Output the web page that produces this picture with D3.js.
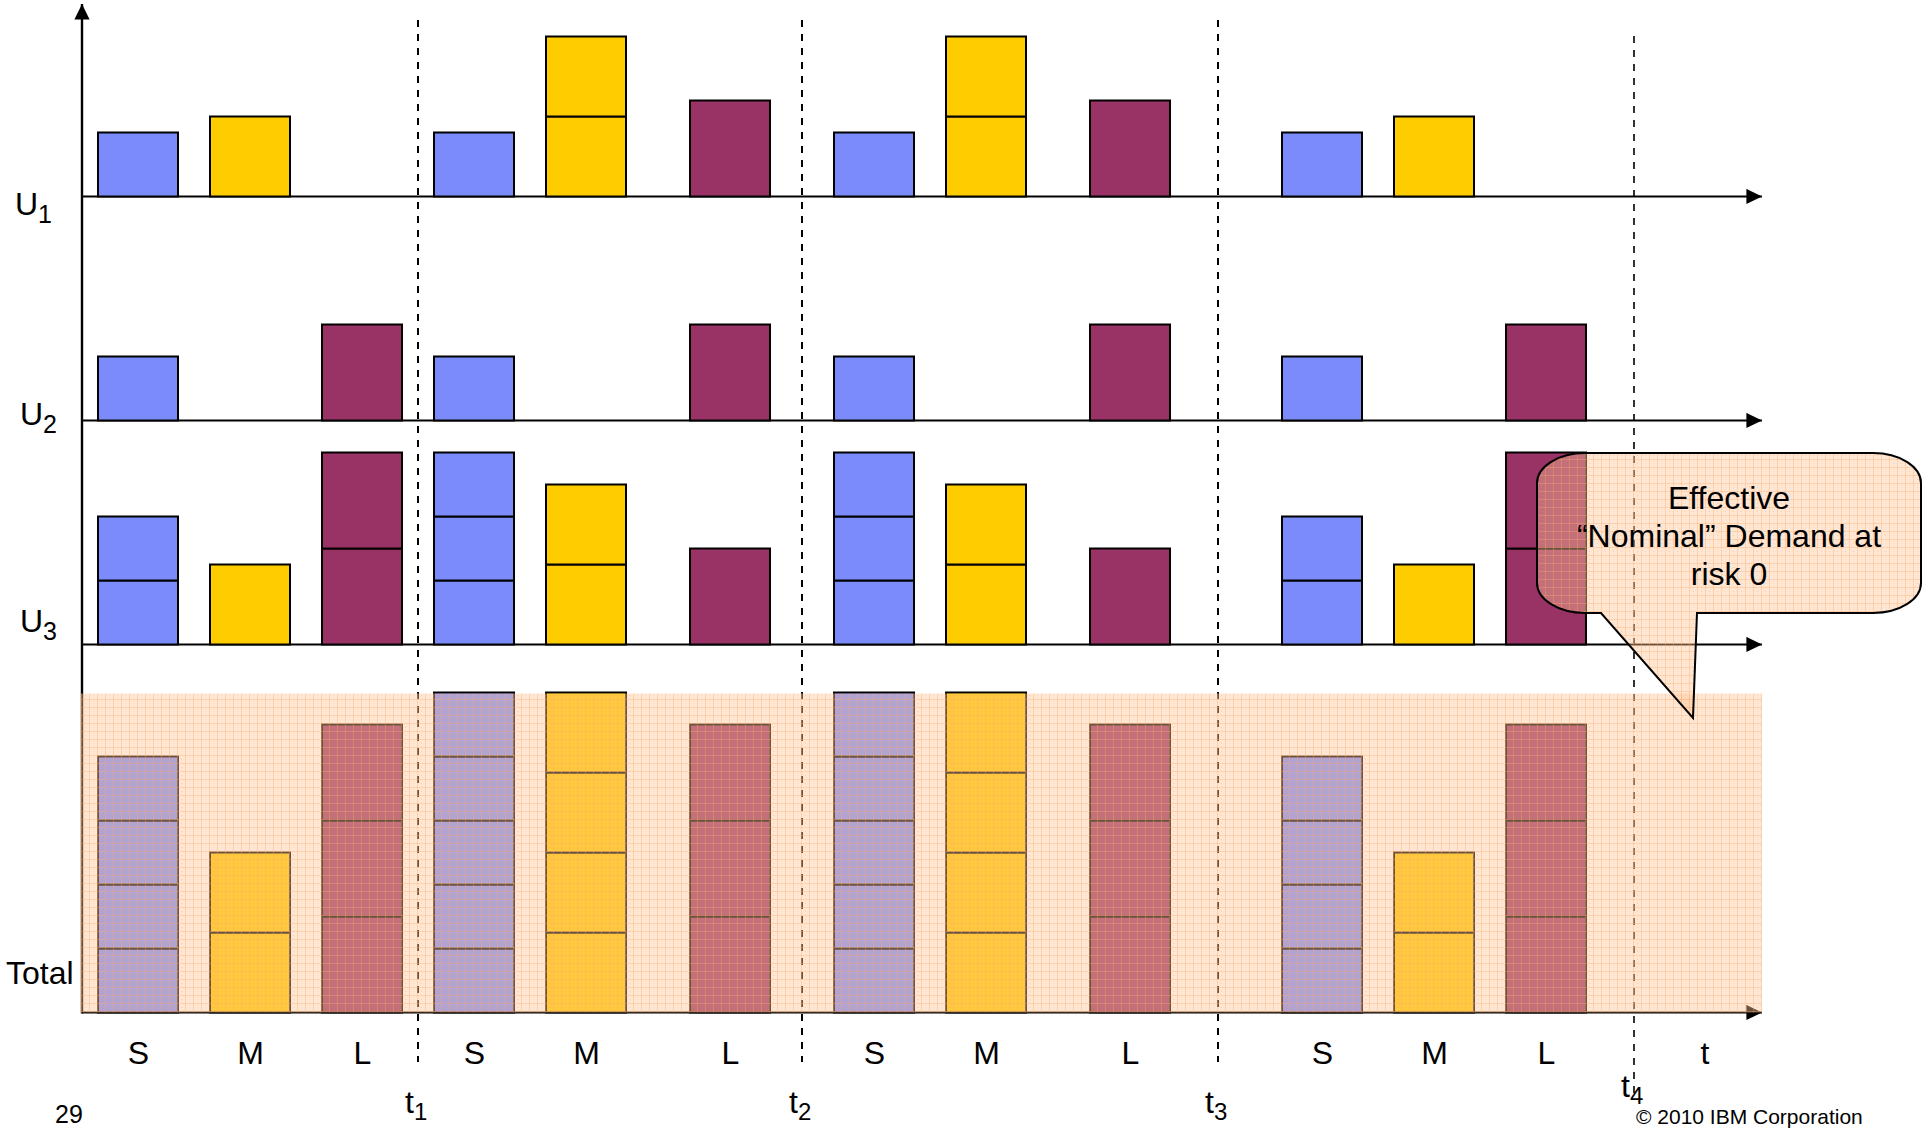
<!DOCTYPE html>
<html>
<head>
<meta charset="utf-8">
<script src="https://cdn.jsdelivr.net/npm/d3@7"></script>
<style>
  html, body { margin: 0; padding: 0; background: #ffffff; }
  svg { display: block; }
  text { font-family: "Liberation Sans", Arial, Helvetica, sans-serif; fill: #000; }
</style>
</head>
<body>
<svg id="chart" width="1931" height="1130"></svg>
<script>
// ---- data -------------------------------------------------------------
// Request classes and the demand that one request of each class adds
const classes = ["S", "M", "L"];
const classDemand = [4, 5, 6];

// Epoch boundaries t1..t4 on the time axis
const epochSubs = ["1", "2", "3", "4"];
const epochTimes = [21, 45, 71, 97];

// Time at which the S, M and L requests are placed within each epoch
const requestTimes = [
  [1, 8, 15],
  [22, 29, 38],
  [47, 54, 63],
  [75, 82, 89]
];

// Requests per epoch (one row per epoch) and class (S, M, L) for each user
const u1Requests = [[1, 1, 0], [1, 2, 1], [1, 2, 1], [1, 1, 0]];
const u2Requests = [[1, 0, 1], [1, 0, 1], [1, 0, 1], [1, 0, 1]];
const u3Requests = [[2, 1, 2], [3, 2, 1], [3, 2, 1], [2, 1, 2]];

const calloutLines = ["Effective", "\u201CNominal\u201D Demand at", "risk 0"];

// ---- layout & style ---------------------------------------------------
const FONT = 32;
const classColors = ["#7b8bfa", "#ffcc00", "#993366"];
const requestSpan = 5;          // time units covered by one request bar

const svg = d3.select("#chart");

// time axis and demand axis (one shared demand unit for every row)
const x = d3.scaleLinear().domain([0, 105]).range([82, 1762]);
const y = d3.scaleLinear().domain([0, 63]).range([1012.5, 4.5]);

// per-user rows: baseline level on the demand axis and label placement
const rows = [
  { sub: "1", counts: u1Requests, base: 51, lx: 15, ly: 18.5 },
  { sub: "2", counts: u2Requests, base: 37, lx: 20, ly: 4.5 },
  { sub: "3", counts: u3Requests, base: 23, lx: 20, ly: -12.5 }
];
const totalCounts = u1Requests.map((ep, i) =>
  ep.map((_, c) => u1Requests[i][c] + u2Requests[i][c] + u3Requests[i][c]));

function blocksFor(counts, base) {
  const out = [];
  counts.forEach((ep, p) => ep.forEach((n, c) => {
    for (let k = 0; k < n; k++) {
      out.push({
        t: requestTimes[p][c],
        lo: base + k * classDemand[c],
        hi: base + (k + 1) * classDemand[c],
        c
      });
    }
  }));
  return out;
}

// ---- defs: arrowheads and the translucent mesh fill ---------------------
const defs = svg.append("defs");
defs.append("marker")
  .attr("id", "arrow")
  .attr("viewBox", "0 0 16 16")
  .attr("refX", 15.6).attr("refY", 8)
  .attr("markerWidth", 16).attr("markerHeight", 16)
  .attr("markerUnits", "userSpaceOnUse")
  .attr("orient", "auto")
  .append("path").attr("d", "M0,0.4 L15.6,8 L0,15.6 Z").attr("fill", "#000");

const pat = defs.append("pattern")
  .attr("id", "mesh")
  .attr("patternUnits", "userSpaceOnUse")
  .attr("width", 8).attr("height", 8)
  .attr("x", 1).attr("y", 3);
pat.append("rect").attr("width", 8).attr("height", 8).attr("fill", "rgba(255,196,150,0.42)");
pat.append("rect").attr("width", 8).attr("height", 1).attr("fill", "rgba(255,170,100,0.35)");
pat.append("rect").attr("width", 1).attr("height", 8).attr("fill", "rgba(255,170,100,0.35)");
pat.append("rect").attr("x", 4).attr("y", 4).attr("width", 1).attr("height", 1).attr("fill", "rgba(220,140,90,0.25)");

// ---- epoch separators ----------------------------------------------------
const last = epochTimes.length - 1;
svg.append("g").selectAll("line")
  .data(epochTimes)
  .join("line")
  .attr("x1", d => x(d)).attr("x2", d => x(d))
  .attr("y1", (d, i) => i === last ? 36 : 20)
  .attr("y2", (d, i) => i === last ? 1100 : 1062)
  .attr("stroke", "#000")
  .attr("stroke-width", (d, i) => i === last ? 1.6 : 2)
  .attr("stroke-dasharray", "7,7");

// ---- axes ------------------------------------------------------------------
const axes = svg.append("g");
axes.append("line")
  .attr("x1", x(0)).attr("x2", x(0))
  .attr("y1", y(0) + 1).attr("y2", y(63) - 0.5)
  .attr("stroke", "#000").attr("stroke-width", 2.4)
  .attr("marker-end", "url(#arrow)");
axes.selectAll("line.h")
  .data([...rows.map(r => r.base), 0])
  .join("line").attr("class", "h")
  .attr("x1", x(0)).attr("x2", x(105))
  .attr("y1", d => y(d)).attr("y2", d => y(d))
  .attr("stroke", "#000").attr("stroke-width", 2.2)
  .attr("marker-end", "url(#arrow)");

// ---- per-user request bars ---------------------------------------------
function drawBlocks(g, blocks) {
  g.selectAll("rect")
    .data(blocks)
    .join("rect")
    .attr("x", d => x(d.t))
    .attr("width", d => x(d.t + requestSpan) - x(d.t))
    .attr("y", d => y(d.hi))
    .attr("height", d => y(d.lo) - y(d.hi))
    .attr("fill", d => classColors[d.c])
    .attr("stroke", "#000")
    .attr("stroke-width", 2);
}
rows.forEach(r => drawBlocks(svg.append("g"), blocksFor(r.counts, r.base)));

// ---- totals ------------------------------------------------------------------
const totalBlocks = blocksFor(totalCounts, 0);
drawBlocks(svg.append("g"), totalBlocks);

// translucent band spanning the total demand region
const maxTotal = d3.max(totalBlocks, d => d.hi);
svg.append("rect")
  .attr("x", x(0) - 1.5)
  .attr("width", x(105) - x(0) + 1.5)
  .attr("y", y(maxTotal) + 1)
  .attr("height", y(0) - y(maxTotal) - 1)
  .attr("fill", "url(#mesh)");

// ---- callout -----------------------------------------------------------------
(function () {
  const x0 = 1537, x1 = 1921, y0 = 453, y1 = 613, rx = 48, ry = 30;
  const p = d3.path();
  p.moveTo(x0 + rx, y0);
  p.lineTo(x1 - rx, y0);
  p.bezierCurveTo(x1 - rx * 0.45, y0, x1, y0 + ry * 0.45, x1, y0 + ry);
  p.lineTo(x1, y1 - ry);
  p.bezierCurveTo(x1, y1 - ry * 0.45, x1 - rx * 0.45, y1, x1 - rx, y1);
  p.lineTo(1697, y1);
  p.lineTo(1693, 718);
  p.lineTo(1601, y1);
  p.lineTo(x0 + rx, y1);
  p.bezierCurveTo(x0 + rx * 0.45, y1, x0, y1 - ry * 0.45, x0, y1 - ry);
  p.lineTo(x0, y0 + ry);
  p.bezierCurveTo(x0, y0 + ry * 0.45, x0 + rx * 0.45, y0, x0 + rx, y0);
  p.closePath();
  svg.append("path")
    .attr("d", p.toString())
    .attr("fill", "url(#mesh)")
    .attr("stroke", "#000")
    .attr("stroke-width", 2);

  svg.append("g").selectAll("text")
    .data(calloutLines)
    .join("text")
    .attr("x", 1729)
    .attr("y", (d, i) => 509 + i * 38)
    .attr("text-anchor", "middle")
    .attr("font-size", FONT)
    .text(d => d);
})();

// ---- class labels along the time axis -------------------------------------
const tickTimes = [], tickNames = [];
requestTimes.forEach(ep => ep.forEach((t, c) => {
  tickTimes.push(t + requestSpan / 2);
  tickNames.push(classes[c]);
}));
const classAxis = d3.axisBottom(x)
  .tickValues(tickTimes)
  .tickFormat((d, i) => tickNames[i])
  .tickSize(0)
  .tickPadding(28.8);
const ax = svg.append("g")
  .attr("transform", `translate(0,${y(0)})`)
  .call(classAxis);
ax.select(".domain").remove();
ax.attr("font-size", null).attr("font-family", null);
ax.selectAll("text").attr("font-size", FONT).style("fill", "#000");

// time axis title
svg.append("text")
  .attr("x", 1705).attr("y", 1064)
  .attr("text-anchor", "middle")
  .attr("font-size", FONT)
  .text("t");

// epoch labels
svg.append("g").selectAll("text")
  .data(epochTimes)
  .join("text")
  .attr("x", d => x(d) - 13)
  .attr("y", (d, i) => i === last ? 1097 : 1113)
  .attr("font-size", FONT)
  .each(function (d, i) {
    const t = d3.select(this);
    t.append("tspan").text("t");
    t.append("tspan").attr("font-size", 24).attr("dy", 7).text(epochSubs[i]);
  });

// row labels
svg.append("g").selectAll("text")
  .data(rows)
  .join("text")
  .attr("x", d => d.lx)
  .attr("y", d => y(d.base) + d.ly)
  .attr("font-size", FONT)
  .each(function (d) {
    const t = d3.select(this);
    t.append("tspan").text("U");
    t.append("tspan").attr("font-size", 25).attr("dy", 8).text(d.sub);
  });
svg.append("text")
  .attr("x", 6).attr("y", y(0) - 28.5)
  .attr("font-size", FONT)
  .text("Total");

// footer
svg.append("text").attr("x", 55).attr("y", 1123).attr("font-size", 25).text("29");
svg.append("text").attr("x", 1636).attr("y", 1124).attr("font-size", 21).text("\u00A9 2010 IBM Corporation");
</script>
</body>
</html>
